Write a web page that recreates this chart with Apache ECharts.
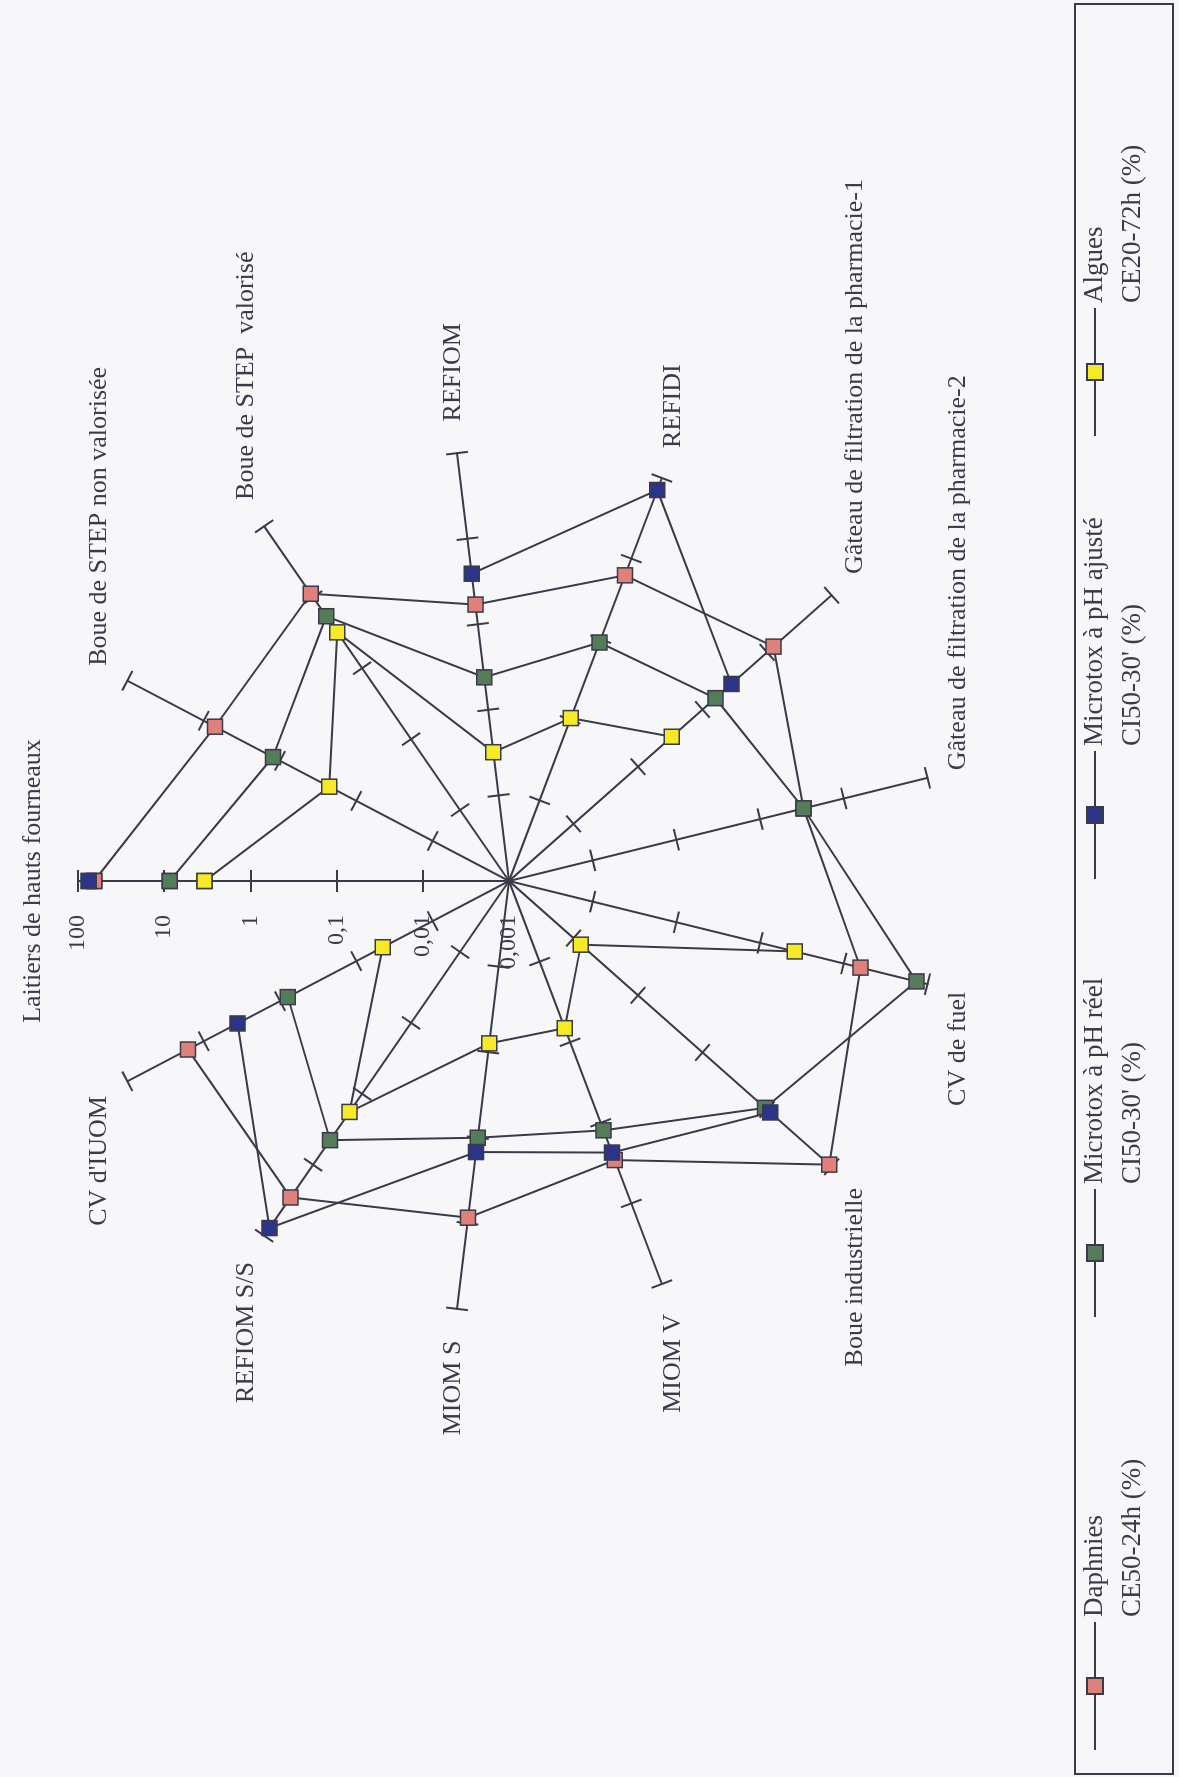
<!DOCTYPE html>
<html>
<head>
<meta charset="utf-8">
<script src="https://cdn.jsdelivr.net/npm/echarts@6/dist/echarts.min.js"></script>
<style>
html, body { margin: 0; padding: 0; width: 1179px; height: 1777px; overflow: hidden; background: #f7f7f9; }
/* the chart is laid out landscape and turned a quarter turn, like the scanned page */
#chart { position: absolute; left: 0; top: 0; width: 1777px; height: 1179px;
         transform-origin: 0 0; transform: translateY(1777px) rotate(-90deg); }
</style>
</head>
<body>
<div id="chart"></div>
<script>
var myChart = echarts.init(document.getElementById('chart'));

// axes, clockwise from the top
var categories = [
    'Laitiers de hauts fourneaux',
    'Boue de STEP non valorisée',
    'Boue de STEP  valorisé',
    'REFIOM',
    'REFIDI',
    'Gâteau de filtration de la pharmacie-1',
    'Gâteau de filtration de la pharmacie-2',
    'CV de fuel',
    'Boue industrielle',
    'MIOM V',
    'MIOM S',
    'REFIOM S/S',
    "CV d'IUOM"
];

// values in %, null = no result
var daphnies   = [65, 7.1, 11.2, 1.7, 6.2, 12.6, 3.3, 15.8, 91.6, 2.9, 8.6, 28.9, 16.1];
var microReel  = [8.6, 1.24, 5.4, 0.24, 0.91, 1.58, 3.3, 73.8, 9.3, 1.24, 1.0, 4.5, 0.79];
var microAjust = [75, null, null, 3.9, 71, 2.8, null, null, 11.2, 2.34, 1.47, 78, 3.6];
var algues     = [3.4, 0.226, 3.2, 0.032, 0.105, 0.334, null, 2.6, 0.013, 0.067, 0.079, 1.8, 0.045];

var seriesNames = ['Daphnies', 'Microtox à pH réel', 'Microtox à pH ajusté', 'Algues'];
var seriesUnits = ['CE50-24h (%)', "CI50-30' (%)", "CI50-30' (%)", 'CE20-72h (%)'];

var tickValues = [0.001, 0.01, 0.1, 1, 10, 100];
var tickLabels = ['0,001', '0,01', '0,1', '1', '10', '100'];

var colors = ['#e0807a', '#557c58', '#2c3488', '#f4ea25'];
var INK = '#3a3a4a';
var FONT = '"Liberation Serif", "DejaVu Serif", serif';
var CENTER = [896, 509];
var RADIUS = 431;
var legendLeft = [21, 454, 892, 1335];

// the radar only draws the spokes, in decades (log10 of the tick values);
// the data go through the log radius axis of the polar system laid on top of it
var decades = tickValues.map(function (t) { return Math.log10(t); });

function tickLabel(v) {
    var best = 0;
    decades.forEach(function (d, i) {
        if (Math.abs(d - v) < Math.abs(decades[best] - v)) best = i;
    });
    return tickLabels[best];
}

// radar places indicators counter-clockwise, so feed them in reverse after the first
var radarOrder = [categories[0]].concat(categories.slice(1).reverse());

// tickLen > 0 draws ticks on one side of each spoke, < 0 on the other
function radarAxes(withText, tickLen) {
    return {
        center: CENTER,
        radius: RADIUS,
        startAngle: 90,
        splitNumber: decades.length - 1,
        indicator: radarOrder.map(function (name, j) {
            var ind = { name: name, min: decades[0], max: decades[decades.length - 1] };
            if (withText && j === 0) ind.axisLabel = { show: true };
            return ind;
        }),
        axisName: { show: withText, color: INK, fontFamily: FONT, fontSize: 26 },
        axisNameGap: 32,
        axisLine: { show: withText, lineStyle: { color: INK, width: 2 } },
        axisTick: {
            show: true, length: tickLen,
            customValues: decades.slice(1),
            lineStyle: { color: INK, width: 2 }
        },
        axisLabel: {
            show: false, margin: 34, color: INK, fontFamily: FONT, fontSize: 24,
            customValues: decades,
            formatter: tickLabel
        },
        splitLine: { show: false },
        splitArea: { show: false }
    };
}

function toPolar(values) {
    var pts = categories.map(function (c, i) {
        return [values[i] == null ? '-' : values[i], c];
    });
    pts.push(pts[0].slice());   // close the loop back on the first axis
    return pts;
}

var allValues = [daphnies, microReel, microAjust, algues];

var option = {
    backgroundColor: '#f7f7f9',
    animation: false,
    radar: [radarAxes(true, 11), radarAxes(false, -11)],
    polar: { center: CENTER, radius: RADIUS },
    angleAxis: {
        type: 'category',
        data: categories,
        startAngle: 90,
        clockwise: true,
        boundaryGap: false,
        axisLine: { show: false },
        axisTick: { show: false },
        axisLabel: { show: false },
        splitLine: { show: false }
    },
    radiusAxis: {
        type: 'log',
        min: tickValues[0],
        max: tickValues[tickValues.length - 1],
        axisLine: { show: false },
        axisTick: { show: false },
        axisLabel: { show: false },
        splitLine: { show: false }
    },
    legend: seriesNames.map(function (name, i) {
        return {
            data: [name],
            left: legendLeft[i],
            top: 1033,
            itemWidth: 128,
            itemHeight: 20,
            selectedMode: false,
            // blank first line so the icon sits level with the name line
            formatter: function (n) { return ' \n' + n + '\n' + seriesUnits[i]; },
            textStyle: { fontFamily: FONT, fontSize: 27, lineHeight: 38, color: INK }
        };
    }),
    graphic: [{
        type: 'rect',
        shape: { x: 3, y: 1075, width: 1770, height: 98 },
        style: { fill: 'none', stroke: INK, lineWidth: 2 },
        silent: true
    }],
    series: allValues.map(function (vals, i) {
        return {
            name: seriesNames[i],
            type: 'line',
            coordinateSystem: 'polar',
            data: toPolar(vals),
            symbol: 'rect',
            symbolSize: 15,
            showAllSymbol: true,
            lineStyle: { color: INK, width: 2 },
            itemStyle: { color: colors[i], borderColor: INK, borderWidth: 1.5 },
            z: 3 + i
        };
    })
};

myChart.setOption(option);
</script>
</body>
</html>
